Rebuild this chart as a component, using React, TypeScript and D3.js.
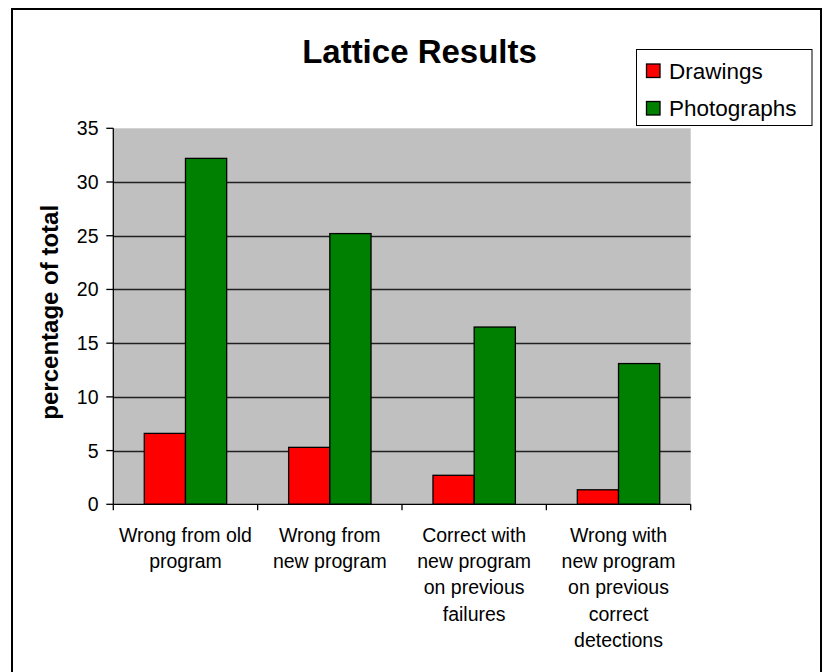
import React from "react";
import * as d3 from "d3";

// Category labels (each entry is split into the lines drawn under the axis)
const categories = [
  "Wrong from old program",
  "Wrong from new program",
  "Correct with new program on previous failures",
  "Wrong with new program on previous correct detections",
];
const categoryLines = [
  ["Wrong from old", "program"],
  ["Wrong from", "new program"],
  ["Correct with", "new program", "on previous", "failures"],
  ["Wrong with", "new program", "on previous", "correct", "detections"],
];
const seriesNames = ["Drawings", "Photographs"];
const seriesColors = ["#FF0000", "#008000"];
const drawings = [6.6, 5.3, 2.7, 1.35];
const photographs = [32.2, 25.2, 16.5, 13.1];
const yTicks = [0, 5, 10, 15, 20, 25, 30, 35];

const W = 828;
const H = 672;
const plot = { left: 113.3, right: 690.7, top: 128.3, bottom: 504.3 };
const FONT = "'Liberation Sans', Arial, sans-serif";

export default function App() {
  const values = [drawings, photographs];
  const x0 = d3
    .scaleBand<string>()
    .domain(categories)
    .range([plot.left, plot.right])
    .padding(0);
  const x1 = d3
    .scaleBand<string>()
    .domain(seriesNames)
    .range([0, x0.bandwidth()])
    .paddingInner(0)
    .paddingOuter(0.752);
  const y = d3.scaleLinear().domain([0, 35]).range([plot.bottom, plot.top]);

  const boundaries = [...categories.map((c) => x0(c)!), plot.right];

  return (
    <div style={{ position: "absolute", left: 0, top: 0 }}>
      <svg width={W} height={H} style={{ display: "block", background: "#fff" }}>
        {/* chart frame */}
        <rect x={12} y={9} width={809} height={H + 10} fill="#fff" stroke="#000" strokeWidth={2} />

        {/* title */}
        <text x={419.5} y={63} textAnchor="middle" fontFamily={FONT} fontWeight="bold" fontSize={33}>
          Lattice Results
        </text>

        {/* plot background */}
        <rect
          x={plot.left}
          y={plot.top}
          width={plot.right - plot.left}
          height={plot.bottom - plot.top}
          fill="#C0C0C0"
        />

        {/* gridlines */}
        {yTicks
          .filter((t) => t > 0 && t < 35)
          .map((t) => (
            <line
              key={"g" + t}
              x1={plot.left}
              x2={plot.right}
              y1={Math.round(y(t)) + 0.5}
              y2={Math.round(y(t)) + 0.5}
              stroke="#202020"
              strokeWidth={1.3}
            />
          ))}

        {/* bars */}
        {categories.map((c, i) => (
          <g key={c} transform={`translate(${x0(c)},0)`}>
            {seriesNames.map((s, j) => (
              <rect
                key={s}
                x={x1(s)}
                y={y(values[j][i])}
                width={x1.bandwidth()}
                height={y(0) - y(values[j][i])}
                fill={seriesColors[j]}
                stroke="#000"
                strokeWidth={1.3}
              />
            ))}
          </g>
        ))}

        {/* y axis */}
        <line x1={plot.left} x2={plot.left} y1={plot.top} y2={plot.bottom} stroke="#000" strokeWidth={1.3} />
        {yTicks.map((t) => (
          <g key={"t" + t}>
            <line x1={plot.left - 7} x2={plot.left} y1={y(t)} y2={y(t)} stroke="#000" strokeWidth={1.3} />
            <text
              x={98.5}
              y={y(t)}
              dy="0.36em"
              textAnchor="end"
              fontFamily={FONT}
              fontSize={19.5}
            >
              {t}
            </text>
          </g>
        ))}
        <text
          transform={`translate(58,${(plot.top + plot.bottom) / 2 - 4}) rotate(-90)`}
          textAnchor="middle"
          fontFamily={FONT}
          fontWeight="bold"
          fontSize={24}
        >
          percentage of total
        </text>

        {/* x axis */}
        <line x1={plot.left} x2={plot.right} y1={plot.bottom} y2={plot.bottom} stroke="#000" strokeWidth={1.3} />
        {boundaries.map((b, i) => (
          <line key={"xb" + i} x1={b} x2={b} y1={plot.bottom} y2={plot.bottom + 6} stroke="#000" strokeWidth={1.3} />
        ))}
        {categories.map((c, i) => (
          <text
            key={"xl" + c}
            x={x0(c)! + x0.bandwidth() / 2}
            y={541.7}
            textAnchor="middle"
            fontFamily={FONT}
            fontSize={19.5}
          >
            {categoryLines[i].map((ln, k) => (
              <tspan key={k} x={x0(c)! + x0.bandwidth() / 2} dy={k === 0 ? 0 : 26.3}>
                {ln}
              </tspan>
            ))}
          </text>
        ))}

        {/* legend */}
        <rect x={636.5} y={49.5} width={175.5} height={76} fill="#fff" stroke="#000" strokeWidth={1} />
        {seriesNames.map((s, j) => (
          <g key={"lg" + s} transform={`translate(0,${j * 37.5})`}>
            <rect x={646.5} y={64} width={13.5} height={13.5} fill={seriesColors[j]} stroke="#000" strokeWidth={1.3} />
            <text x={669} y={78.5} fontFamily={FONT} fontSize={22.5}>
              {s}
            </text>
          </g>
        ))}
      </svg>
    </div>
  );
}
